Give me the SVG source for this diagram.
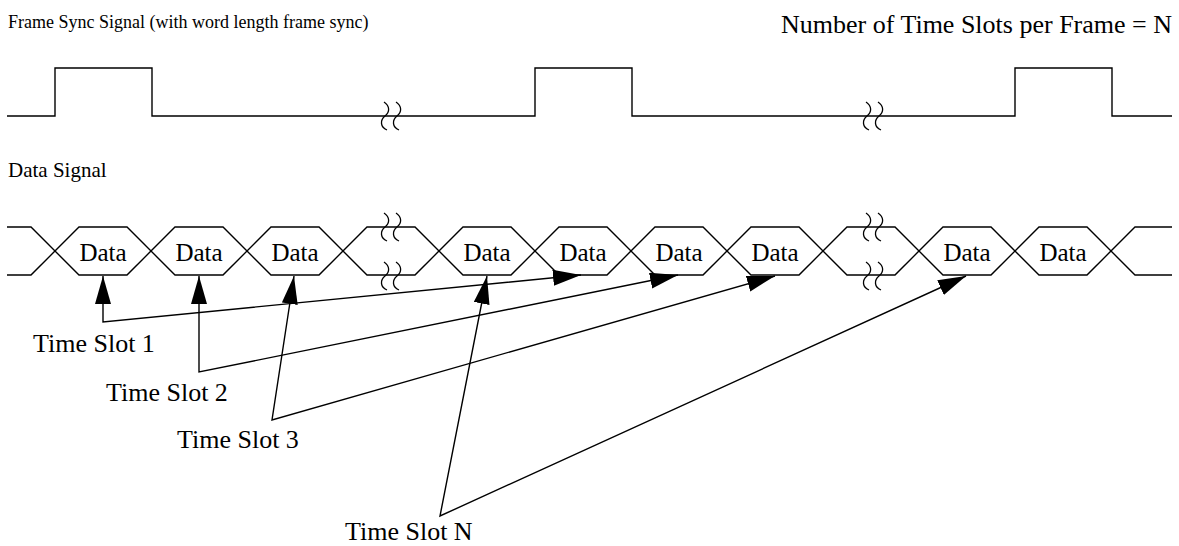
<svg xmlns="http://www.w3.org/2000/svg" width="1179" height="546" viewBox="0 0 1179 546">
<defs>
<style>
.ln{fill:none;stroke:#000;stroke-width:1.4}
.sq{fill:none;stroke:#000;stroke-width:1.3}
.t{font-family:"Liberation Serif","Times New Roman",serif;fill:#000}
.ttl{font-size:18px}
.num{font-size:26px}
.lbl{font-size:21px}
.ts{font-size:26px}
.dt{font-size:25px;text-anchor:middle}
</style>
<marker id="ah" markerUnits="userSpaceOnUse" markerWidth="30" markerHeight="18" refX="28" refY="8" orient="auto-start-reverse">
<path d="M0,0 L28,8 L0,16 z" fill="#000"/>
</marker>
<path id="sqg" d="M0,0 C6,4 6,10 1,14 C-4,18 -4,25 3,28"/>
</defs>
<rect width="1179" height="546" fill="#fff"/>
<g id="titles">
<text class="t ttl" x="8" y="28">Frame Sync Signal (with word length frame sync)</text>
<text class="t num" x="1172" y="33" text-anchor="end">Number of Time Slots per Frame = N</text>
<text class="t lbl" x="8" y="177">Data Signal</text>
</g>
<g id="frame-sync">
<polyline class="ln" points="7,116 55,116 55,68 152,68 152,116 535,116 535,68 632,68 632,116 1015,116 1015,68 1112,68 1112,116 1172,116"/>
<use href="#sqg" class="sq" x="384" y="102"/>
<use href="#sqg" class="sq" x="396" y="102"/>
<use href="#sqg" class="sq" x="866" y="102"/>
<use href="#sqg" class="sq" x="878" y="102"/>
</g>
<g id="data-signal">
<polyline class="ln" points="7,227 31,227 79,275 127,275 175,227 223,227 271,275 319,275 367,227 415,227 463,275 511,275 559,227 607,227 655,275 703,275 751,227 799,227 847,275 895,275 943,227 991,227 1039,275 1087,275 1135,227 1172,227"/>
<polyline class="ln" points="7,275 31,275 79,227 127,227 175,275 223,275 271,227 319,227 367,275 415,275 463,227 511,227 559,275 607,275 655,227 703,227 751,275 799,275 847,227 895,227 943,275 991,275 1039,227 1087,227 1135,275 1172,275"/>
<use href="#sqg" class="sq" x="384" y="213"/>
<use href="#sqg" class="sq" x="396" y="213"/>
<use href="#sqg" class="sq" x="384" y="262"/>
<use href="#sqg" class="sq" x="396" y="262"/>
<use href="#sqg" class="sq" x="866" y="213"/>
<use href="#sqg" class="sq" x="878" y="213"/>
<use href="#sqg" class="sq" x="866" y="262"/>
<use href="#sqg" class="sq" x="878" y="262"/>
</g>
<g id="data-labels">
<text class="t dt" x="103" y="261">Data</text>
<text class="t dt" x="199" y="261">Data</text>
<text class="t dt" x="295" y="261">Data</text>
<text class="t dt" x="487" y="261">Data</text>
<text class="t dt" x="583" y="261">Data</text>
<text class="t dt" x="679" y="261">Data</text>
<text class="t dt" x="775" y="261">Data</text>
<text class="t dt" x="967" y="261">Data</text>
<text class="t dt" x="1063" y="261">Data</text>
</g>
<g id="connectors">
<path class="ln" d="M103,276 L103,322 L581,275" marker-start="url(#ah)" marker-end="url(#ah)"/>
<path class="ln" d="M199,276 L199,372 L678,275" marker-start="url(#ah)" marker-end="url(#ah)"/>
<path class="ln" d="M294,276 L272,420 L775,276" marker-start="url(#ah)" marker-end="url(#ah)"/>
<path class="ln" d="M487,276 L440,516 L966,276" marker-start="url(#ah)" marker-end="url(#ah)"/>
</g>
<g id="slot-labels">
<text class="t ts" x="33" y="352">Time Slot 1</text>
<text class="t ts" x="106" y="401">Time Slot 2</text>
<text class="t ts" x="177" y="448">Time Slot 3</text>
<text class="t ts" x="345" y="540">Time Slot N</text>
</g>
</svg>
